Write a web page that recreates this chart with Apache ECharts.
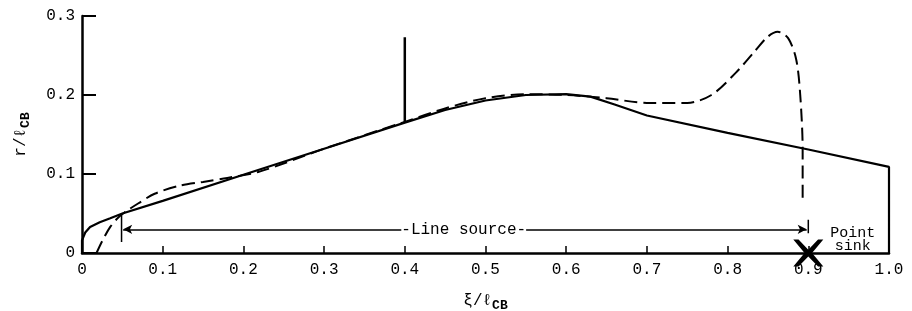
<!DOCTYPE html>
<html lang="en">
<head>
    <meta charset="UTF-8">
    <title>Body profile - line source and point sink</title>
    <style>
        html, body { margin: 0; padding: 0; background: #fff; }
        #chart { width: 912px; height: 311px; }
    </style>
</head>
<body>
<div id="chart"></div>
<script src="https://cdn.jsdelivr.net/npm/echarts@6/dist/echarts.min.js"></script>
<script>
    // ---- data (xi / l_CB, r / l_CB) ----
    const bodyProfile = [
        [0, 0], [0, 0.016], [0.004, 0.026], [0.01, 0.033], [0.022, 0.039], [0.035, 0.044],
        [0.05, 0.05], [0.1, 0.066], [0.2, 0.099], [0.3, 0.132], [0.4, 0.165],
        [0.45, 0.181], [0.5, 0.193], [0.55, 0.2], [0.6, 0.201], [0.63, 0.198],
        [0.66, 0.188], [0.7, 0.174], [0.8, 0.152], [0.9, 0.131], [1.0, 0.109], [1.0, 0]
    ];
    const computedProfile = [
        [0.018, 0], [0.025, 0.015], [0.035, 0.033], [0.045, 0.045], [0.055, 0.053],
        [0.07, 0.063], [0.09, 0.075], [0.12, 0.085], [0.15, 0.09], [0.18, 0.095],
        [0.22, 0.103], [0.3, 0.132], [0.4, 0.166], [0.45, 0.183], [0.5, 0.196],
        [0.55, 0.201], [0.6, 0.2], [0.65, 0.196], [0.7, 0.19], [0.75, 0.19],
        [0.78, 0.2], [0.81, 0.228], [0.835, 0.257], [0.85, 0.274], [0.862, 0.28],
        [0.875, 0.272], [0.885, 0.245], [0.89, 0.2], [0.893, 0.13], [0.893, 0.065]
    ];
    const stationMark = [[0.4, 0.165], [0.4, 0.273]];
    const sourceStartTick = [[0.049, 0.048], [0.049, 0.014]];
    const sourceEndTick = [[0.9, 0.042], [0.9, 0.025]];
    const sourceArrow = [[0.051, 0.03], [0.898, 0.03]];
    const sourceLabelAt = [0.473, 0.03];
    const sinkPoint = [0.9, 0];
    const sinkLabelAt = [0.955, 0.0165];
    const xTicks = [0, 1.0, 0.1];   // min, max, interval
    const yTicks = [0, 0.3, 0.1];

    const font = '"Liberation Mono", "DejaVu Sans Mono", monospace';
    const ink = '#000';

    const chart = echarts.init(document.getElementById('chart'));

    function segment(data, width) {
        return {
            type: 'line', data: data, symbol: 'none', silent: true,
            lineStyle: { color: ink, width: width || 2 }, z: 3
        };
    }

    // invisible anchor point that only carries a text label
    function textAt(point, text, extra) {
        return {
            type: 'scatter', data: [point], silent: true, z: 7, clip: false,
            symbolSize: 1, itemStyle: { color: 'rgba(0,0,0,0)', opacity: 1 },
            label: Object.assign({
                show: true, position: 'inside', formatter: text,
                fontFamily: font, fontSize: 16, color: ink
            }, extra)
        };
    }

    const nameRich = {
        a: { fontFamily: font, fontSize: 16, color: ink },
        s: { fontFamily: font, fontSize: 13, fontWeight: 'bold', color: ink, padding: [10, 0, 0, 0] }
    };

    const option = {
        animation: false,
        grid: { left: 82, right: 23, top: 16, bottom: 58, containLabel: false, outerBoundsMode: 'none' },
        xAxis: {
            type: 'value', min: xTicks[0], max: xTicks[1], interval: xTicks[2],
            name: '{a|ξ/ℓ}{s|CB}', nameLocation: 'middle', nameGap: 36,
            nameTextStyle: { rich: nameRich },
            axisLine: { lineStyle: { color: ink, width: 2.5 } },
            axisTick: { inside: true, length: 7, lineStyle: { color: ink, width: 1.5 } },
            axisLabel: {
                fontFamily: font, fontSize: 16, color: ink, margin: 9,
                formatter: v => v === 0 ? '0' : v.toFixed(1)
            },
            splitLine: { show: false }
        },
        yAxis: {
            type: 'value', min: yTicks[0], max: yTicks[1], interval: yTicks[2],
            name: '{a|r/ℓ}{s|CB}', nameLocation: 'middle', nameGap: 50, nameRotate: 90,
            nameTextStyle: { rich: nameRich },
            axisLine: { show: true, lineStyle: { color: ink, width: 2.5 } },
            axisTick: { show: true, inside: true, length: 14, lineStyle: { color: ink, width: 2 } },
            axisLabel: {
                fontFamily: font, fontSize: 16, color: ink, margin: 7,
                formatter: v => v === 0 ? '0' : v.toFixed(1)
            },
            splitLine: { show: false }
        },
        series: [
            segment(bodyProfile, 2.2),
            {
                type: 'line', data: computedProfile, symbol: 'none', silent: true, smooth: 0.3,
                lineStyle: { color: ink, width: 2, type: [13, 6] }, z: 4
            },
            segment(stationMark, 2.5),
            segment(sourceStartTick, 1.5),
            segment(sourceEndTick, 1.5),
            {
                type: 'line', data: [], silent: true,
                markLine: {
                    silent: true, symbol: ['arrow', 'arrow'], symbolSize: [7, 9],
                    lineStyle: { color: ink, width: 1.5, type: 'solid' },
                    label: { show: false },
                    data: [[{ coord: sourceArrow[0] }, { coord: sourceArrow[1] }]]
                }
            },
            textAt(sourceLabelAt, '-Line source-', { backgroundColor: '#fff' }),
            {
                type: 'scatter', data: [sinkPoint], silent: true, z: 6, clip: false,
                symbol: 'path://M0,0 L3.5,0 L10,7.5 L16.5,0 L20,0 L12.5,10 L20,20 L16.5,20 L10,12.5 L3.5,20 L0,20 L7.5,10 Z',
                symbolSize: [30, 27], itemStyle: { color: ink, opacity: 1 }
            },
            textAt(sinkLabelAt, 'Point\nsink', { fontSize: 15, lineHeight: 13, align: 'center' })
        ]
    };

    chart.setOption(option);
</script>
</body>
</html>
